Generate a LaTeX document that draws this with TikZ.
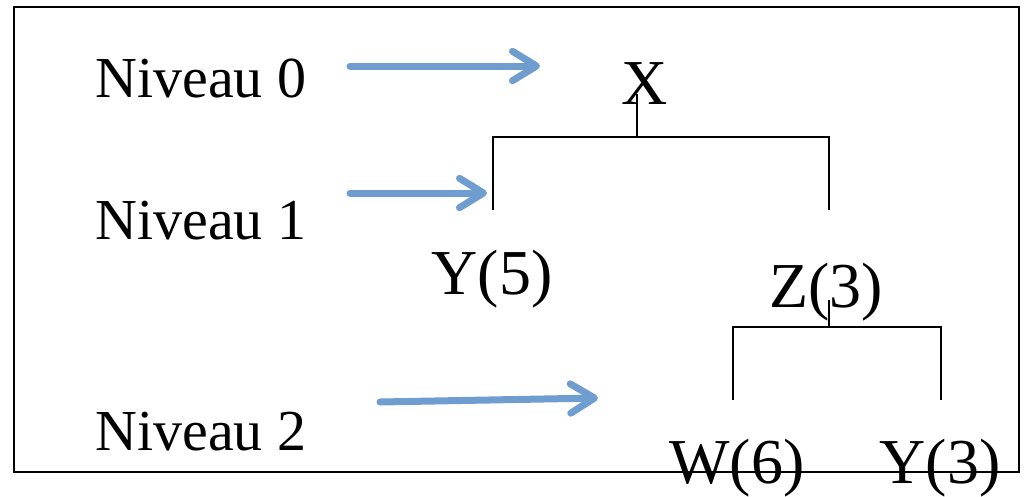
\documentclass[tikz,border=0pt]{standalone}
\usepackage{fontspec}
\setmainfont{Liberation Serif}
\usetikzlibrary{arrows.meta}
\definecolor{arrowblue}{HTML}{6F9DD0}

\begin{document}
\begin{tikzpicture}[x=0.75pt,y=-0.75pt,
    level/.style={font=\fontsize{43.5}{52}\selectfont, inner sep=0pt, anchor=base west},
    leaf/.style={font=\fontsize{48}{56}\selectfont, inner sep=0pt, anchor=base},
    levelarrow/.style={draw=arrowblue, line width=5.25pt, line cap=round,
        -{Straight Barb[round, length=18pt, width=22pt]}},
    branch/.style={draw=black, line width=1.5pt}]
    \useasboundingbox (0,0) rectangle (1024,496);
    \draw[line width=1.5pt] (14,7) rectangle (1019,472);

    % levels
    \node[level] (n0) at (95,97) {Niveau 0};
    \node[level] (n1) at (95,239) {Niveau 1};
    \node[level] (n2) at (95,450) {Niveau 2};

    \coordinate (a0s) at (350,66);  \coordinate (a0e) at (540,66);
    \coordinate (a1s) at (350,193); \coordinate (a1e) at (487,193);
    \coordinate (a2s) at (380,402); \coordinate (a2e) at (598,398);
    \draw[levelarrow] (a0s) -- (a0e);
    \draw[levelarrow] (a1s) -- (a1e);
    \draw[levelarrow] (a2s) -- (a2e);

    % tree
    \node[leaf] (x) at (645,104) {X};
    \node[leaf] (y5) at (492,294) {Y(5)};
    \node[leaf] (z3) at (826,307) {Z(3)};
    \node[leaf] (w6) at (737,483) {W(6)};
    \node[leaf] (y3) at (940,483) {Y(3)};

    \coordinate (xtop) at (637,94);
    \coordinate (xmid) at (637,137);
    \coordinate (xl) at (493,137);  \coordinate (xld) at (493,210);
    \coordinate (xr) at (829,137);  \coordinate (xrd) at (829,210);
    \draw[branch] (xtop) -- (xmid);
    \draw[branch] (xld) -- (xl) -- (xr) -- (xrd);

    \coordinate (ztop) at (829,300);
    \coordinate (zmid) at (829,327);
    \coordinate (zl) at (733,327);  \coordinate (zld) at (733,400);
    \coordinate (zr) at (941,327);  \coordinate (zrd) at (941,400);
    \draw[branch] (ztop) -- (zmid);
    \draw[branch] (zld) -- (zl) -- (zr) -- (zrd);
\end{tikzpicture}
\end{document}
